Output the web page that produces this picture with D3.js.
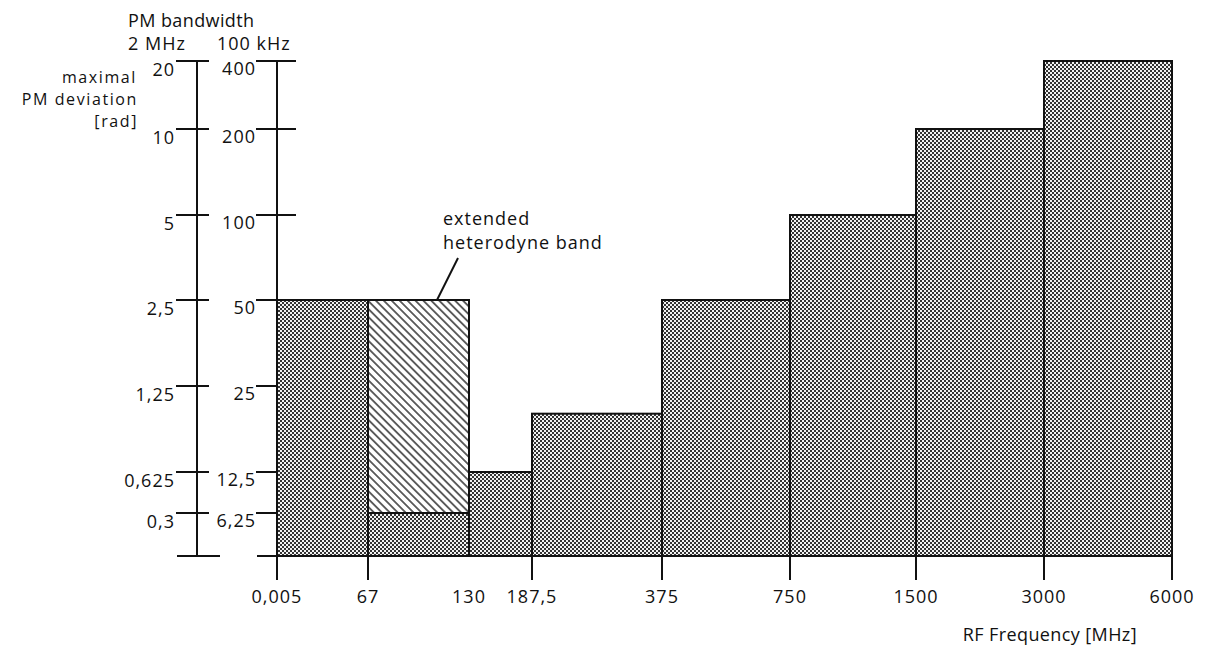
<!DOCTYPE html>
<html>
<head>
<meta charset="utf-8">
<script src="https://cdn.jsdelivr.net/npm/d3@7"></script>
<style>
  body { margin: 0; background: #fff; }
  text { font-family: 'Open Sans', sans-serif; font-size: 18px; letter-spacing: 1px; fill: #111; }
  text.small { font-size: 16px; letter-spacing: 1.6px; }
</style>
</head>
<body>
<div id="vis"></div>
<script>
// band edges on the RF axis [MHz]
var freqEdges = [0.005, 67, 130, 187.5, 375, 750, 1500, 3000, 6000];
var freqLabels = ['0,005', '67', '130', '187,5', '375', '750', '1500', '3000', '6000'];
var freqTicks = [0.005, 67, 187.5, 375, 750, 1500, 3000, 6000];   // no tick under 130

// PM bandwidth 100 kHz for each band
var bandwidthKHz = [50, 6.25, 12.5, 20, 50, 100, 200, 400];

// extended heterodyne band (hatched)
var heteroFreq = [67, 130];
var heteroBw = [6.25, 50];

// left axes
var bwTicks = [6.25, 12.5, 25, 50, 100, 200, 400];
var bwLabels = ['6,25', '12,5', '25', '50', '100', '200', '400'];
var devLabels = ['0,3', '0,625', '1,25', '2,5', '5', '10', '20'];

var width = 1213;
var height = 650;
var axisBottom = 556;

var svg = d3.select('#vis')
            .append('svg')
            .attr('width', width)
            .attr('height', height);

var defs = svg.append('defs');
var dots = defs.append('pattern')
               .attr('id', 'dots')
               .attr('patternUnits', 'userSpaceOnUse')
               .attr('width', 4)
               .attr('height', 4);
dots.append('rect').attr('width', 4).attr('height', 4).attr('fill', '#f2f2f2');
dots.append('rect').attr('width', 2).attr('height', 2).attr('fill', '#333');
dots.append('rect').attr('x', 2).attr('y', 2).attr('width', 2).attr('height', 2).attr('fill', '#333');

var hatch = defs.append('pattern')
                .attr('id', 'hatch')
                .attr('patternUnits', 'userSpaceOnUse')
                .attr('width', 10)
                .attr('height', 5.6)
                .attr('patternTransform', 'rotate(45)');
hatch.append('rect').attr('width', 10).attr('height', 5.6).attr('fill', '#fff');
hatch.append('line').attr('x1', 0).attr('x2', 10).attr('y1', 2.8).attr('y2', 2.8)
     .attr('stroke', '#111').attr('stroke-width', 1.3);

// scales: hand drawn axes, piecewise
var x = d3.scaleLinear()
          .domain(freqEdges)
          .range([277, 368, 469, 532, 662, 790, 916, 1044, 1172]);
var y = d3.scaleLog()
          .base(2)
          .domain([3.125].concat(bwTicks))
          .range([axisBottom, 513, 472, 386, 300, 215, 129, 61]);

var axis1X = 197;
var axis2X = x(freqEdges[0]);

////////////////////////////////// left axes //////////////////////////////////
var axes = svg.append('g').attr('stroke', '#111').attr('stroke-width', 2);

axes.append('line')
    .attr('x1', axis1X).attr('x2', axis1X)
    .attr('y1', y(400)).attr('y2', axisBottom);
axes.append('line')
    .attr('x1', axis2X).attr('x2', axis2X)
    .attr('y1', y(400)).attr('y2', axisBottom + 24);

axes.selectAll('.t1')
    .data(bwTicks)
    .enter().append('line')
    .attr('x1', axis1X - 21).attr('x2', axis1X + 12)
    .attr('y1', function(d) { return y(d); })
    .attr('y2', function(d) { return y(d); });
axes.append('line')
    .attr('x1', axis1X - 20).attr('x2', axis1X + 23)
    .attr('y1', axisBottom).attr('y2', axisBottom);

axes.selectAll('.t2')
    .data(bwTicks)
    .enter().append('line')
    .attr('x1', axis2X - 21).attr('x2', axis2X + 19)
    .attr('y1', function(d) { return y(d); })
    .attr('y2', function(d) { return y(d); });

// x axis baseline + ticks
axes.append('line')
    .attr('x1', axis2X - 20).attr('x2', x(6000))
    .attr('y1', axisBottom).attr('y2', axisBottom);
axes.selectAll('.tx')
    .data(freqTicks)
    .enter().append('line')
    .attr('x1', function(d) { return x(d); })
    .attr('x2', function(d) { return x(d); })
    .attr('y1', axisBottom).attr('y2', axisBottom + 24);

svg.selectAll('.l1')
   .data(devLabels)
   .enter().append('text')
   .attr('text-anchor', 'end')
   .attr('x', axis1X - 22)
   .attr('y', function(d, i) { return y(bwTicks[i]) + 15; })
   .text(function(d) { return d; });

svg.selectAll('.l2')
   .data(bwLabels)
   .enter().append('text')
   .attr('text-anchor', 'end')
   .attr('x', axis2X - 21)
   .attr('y', function(d, i) { return y(bwTicks[i]) + 14; })
   .text(function(d) { return d; });

svg.selectAll('.lx')
   .data(freqLabels)
   .enter().append('text')
   .attr('text-anchor', 'middle')
   .attr('x', function(d, i) { return x(freqEdges[i]); })
   .attr('y', 603)
   .text(function(d) { return d; });

////////////////////////////////// bars //////////////////////////////////
var bands = bandwidthKHz.map(function(v, i) {
    return { from: freqEdges[i], to: freqEdges[i + 1], bw: v };
});

svg.selectAll('.bar')
   .data(bands)
   .enter().append('rect')
   .attr('class', 'bar')
   .attr('x', function(d) { return x(d.from); })
   .attr('width', function(d) { return x(d.to) - x(d.from); })
   .attr('y', function(d) { return y(d.bw); })
   .attr('height', function(d) { return axisBottom - y(d.bw); })
   .attr('fill', 'url(#dots)')
   .attr('stroke', '#111')
   .attr('stroke-width', 2);

svg.append('rect')
   .attr('x', x(heteroFreq[0]))
   .attr('width', x(heteroFreq[1]) - x(heteroFreq[0]))
   .attr('y', y(heteroBw[1]))
   .attr('height', y(heteroBw[0]) - y(heteroBw[1]))
   .attr('fill', 'url(#hatch)')
   .attr('stroke', '#111')
   .attr('stroke-width', 2);

// annotation
svg.append('line')
   .attr('x1', 458).attr('y1', 258)
   .attr('x2', 437).attr('y2', y(heteroBw[1]))
   .attr('stroke', '#111').attr('stroke-width', 2);
svg.append('text').attr('x', 443).attr('y', 225).text('extended');
svg.append('text').attr('x', 443).attr('y', 249).text('heterodyne band');

////////////////////////////////// titles //////////////////////////////////
svg.append('text').attr('x', 128).attr('y', 27).style('letter-spacing', '0.4px').text('PM bandwidth');
svg.append('text').attr('x', 128).attr('y', 50).text('2 MHz');
svg.append('text').attr('x', 217).attr('y', 50).text('100 kHz');

svg.append('text').attr('class', 'small').attr('text-anchor', 'end').attr('x', 137).attr('y', 83).text('maximal');
svg.append('text').attr('class', 'small').attr('text-anchor', 'end').attr('x', 138).attr('y', 105).text('PM deviation');
svg.append('text').attr('class', 'small').attr('text-anchor', 'end').attr('x', 138).attr('y', 127).text('[rad]');

svg.append('text').attr('text-anchor', 'end').attr('x', 1137).attr('y', 641).style('letter-spacing', '0.4px').text('RF Frequency [MHz]');
</script>
</body>
</html>
